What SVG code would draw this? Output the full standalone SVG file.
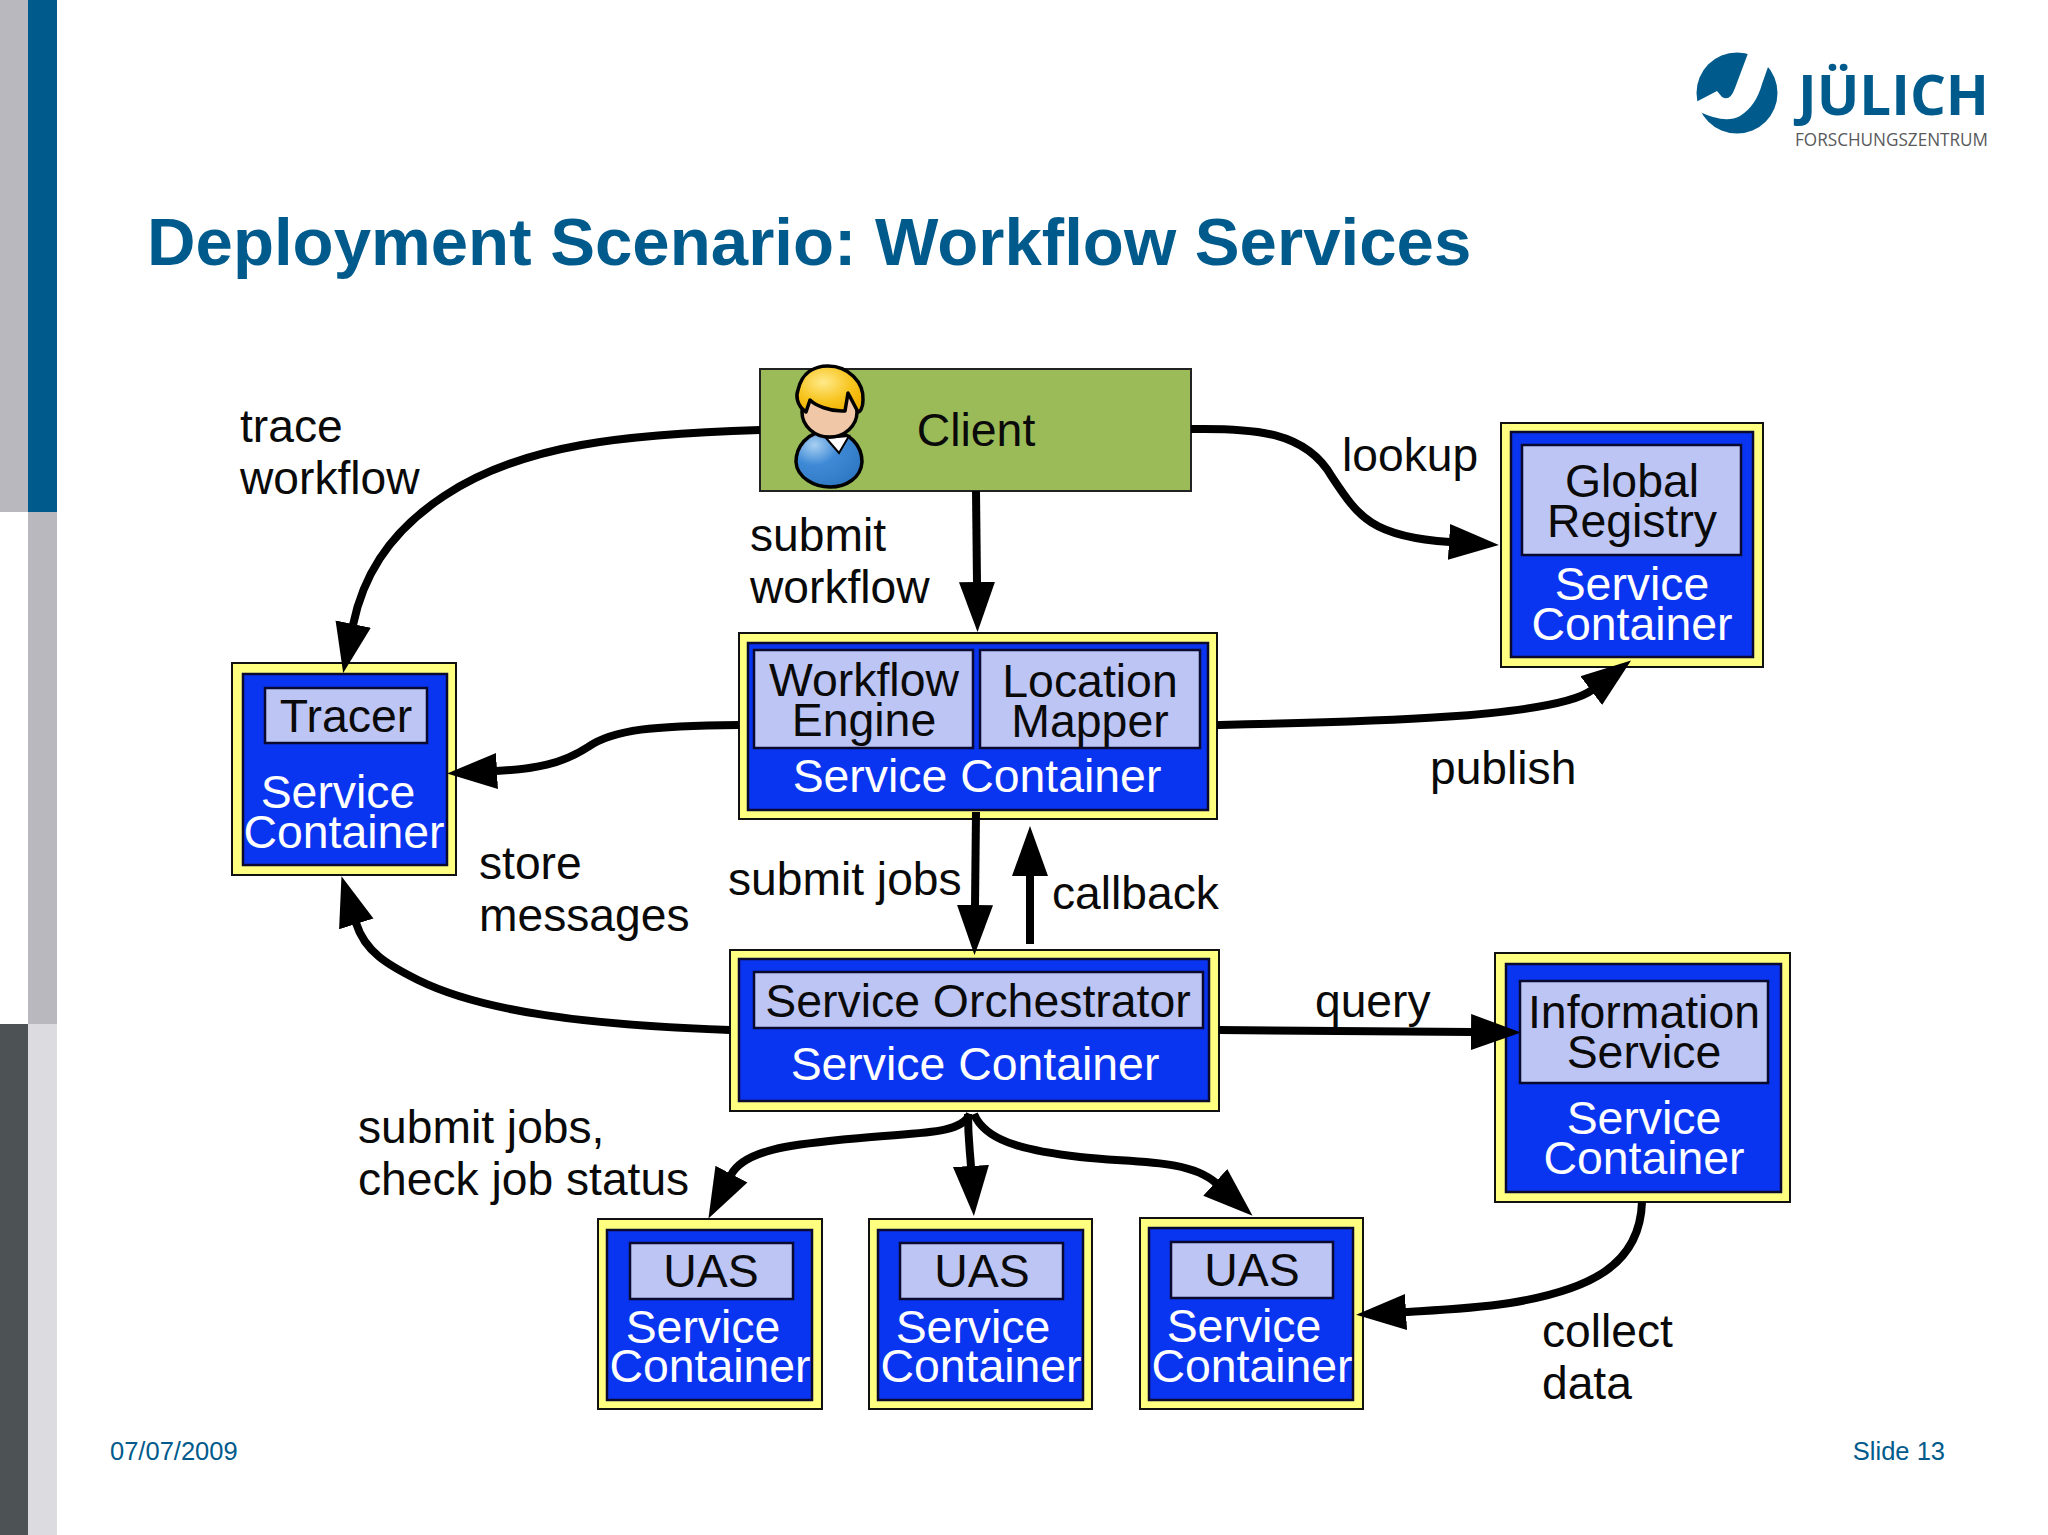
<svg xmlns="http://www.w3.org/2000/svg" width="2048" height="1535" viewBox="0 0 2048 1535">
<style>
text{font-family:"Liberation Sans",Arial,sans-serif}
.o{fill:#ffff80;stroke:#111;stroke-width:2}
.i{fill:#0a35f0;stroke:#0a0a30;stroke-width:2.5}
.b{fill:#bdc5f5;stroke:#0a0a30;stroke-width:2.5}
.t{font-size:46.4px;fill:#0a0a0a;text-anchor:middle}
.w{font-size:46.4px;fill:#fff;text-anchor:middle}
.l{font-size:46.2px;fill:#0a0a0a}
.c{fill:none;stroke:#000;stroke-width:8;marker-end:url(#h)}
.f{font-size:25.5px;fill:#005b8c}
</style>
<defs>
<marker id="h" markerUnits="userSpaceOnUse" markerWidth="54" markerHeight="40" refX="1" refY="20" orient="auto"><path d="M0 2L50 20L0 38Z" fill="#000"/></marker>
<radialGradient id="hair" cx="40%" cy="35%" r="70%"><stop offset="0" stop-color="#ffe98a"/><stop offset=".6" stop-color="#f7c520"/><stop offset="1" stop-color="#f0b000"/></radialGradient>
<radialGradient id="body" cx="28%" cy="25%" r="80%"><stop offset="0" stop-color="#a8d0f2"/><stop offset=".45" stop-color="#3f8ad6"/><stop offset="1" stop-color="#2f78c4"/></radialGradient>
</defs>
<rect width="2048" height="1535" fill="#fff"/>
<g id="stripes">
<rect x="0" y="0" width="28" height="512" fill="#b8b8be"/>
<rect x="28" y="0" width="29" height="512" fill="#005b8c"/>
<rect x="28" y="512" width="29" height="512" fill="#b8b8be"/>
<rect x="0" y="1024" width="28" height="511" fill="#4d5355"/>
<rect x="28" y="1024" width="29" height="511" fill="#dcdce0"/>
</g>
<g id="logo">
<circle cx="1737" cy="93" r="40.5" fill="#005b8c"/>
<path d="M1750 48L1735 88Q1730 102 1722 97L1717 91L1694 103L1700 112Q1725 124 1740 116Q1756 106 1762 84L1768 67L1790 40Z" fill="#fff"/>
<text x="1798" y="115" font-size="56" font-weight="700" fill="#005b8c" textLength="191" lengthAdjust="spacingAndGlyphs" style="font-family:'Open Sans',sans-serif">JÜLICH</text>
<text x="1795" y="146" font-size="18" fill="#58595b" textLength="193" lengthAdjust="spacingAndGlyphs" style="font-family:'Open Sans',sans-serif">FORSCHUNGSZENTRUM</text>
</g>
<text id="title" x="147" y="264.5" font-size="67.2" font-weight="700" fill="#005b8c">Deployment Scenario: Workflow Services</text>
<g id="client">
<rect x="760" y="369" width="431" height="122" fill="#9bbb59" stroke="#222" stroke-width="2"/>
<path d="M829 431C806 431 796 448 796 462C797 478 815 487 830 487C846 487 861 478 862 462C862 446 850 431 829 431Z" fill="url(#body)" stroke="#000" stroke-width="3.5"/>
<path d="M826 438L839 453L849 436Z" fill="#fff" stroke="#000" stroke-width="2"/>
<ellipse cx="829.5" cy="412" rx="27.5" ry="25" fill="#f0c8a8" stroke="#000" stroke-width="3.5"/>
<path d="M806 412C796 405 796 395 798 390C802 372 815 366 828 366C848 366 864 382 863 400C863 408 860 412 858 412L848 393L845 411C830 412 815 405 810 400Z" fill="url(#hair)" stroke="#000" stroke-width="3.5" stroke-linejoin="round"/>
<text class="t" x="976" y="446">Client</text>
</g>
<g id="global-registry">
<rect class="o" x="1501" y="423" width="262" height="244"/>
<rect class="i" x="1511" y="432" width="242" height="225"/>
<rect class="b" x="1522" y="445" width="219" height="110"/>
<text class="t" x="1632" y="497">Global</text>
<text class="t" x="1632" y="537">Registry</text>
<text class="w" x="1632" y="600">Service</text>
<text class="w" x="1632" y="640">Container</text>
</g>
<g id="tracer">
<rect class="o" x="232" y="663" width="224" height="212"/>
<rect class="i" x="243" y="674" width="204" height="191"/>
<rect class="b" x="265" y="688" width="162" height="55"/>
<text class="t" x="346" y="732">Tracer</text>
<text class="w" x="338" y="808">Service</text>
<text class="w" x="344" y="848">Container</text>
</g>
<g id="workflow">
<rect class="o" x="739" y="633" width="478" height="186"/>
<rect class="i" x="748" y="643" width="460" height="167"/>
<rect class="b" x="754" y="650" width="219" height="98"/>
<rect class="b" x="980" y="650" width="220" height="98"/>
<text class="t" x="864" y="696">Workflow</text>
<text class="t" x="864" y="736">Engine</text>
<text class="t" x="1090" y="697">Location</text>
<text class="t" x="1090" y="737">Mapper</text>
<text class="w" x="977" y="792">Service Container</text>
</g>
<g id="orchestrator">
<rect class="o" x="730" y="950" width="489" height="161"/>
<rect class="i" x="739" y="959" width="470" height="142"/>
<rect class="b" x="754" y="972" width="449" height="56"/>
<text class="t" x="978" y="1017">Service Orchestrator</text>
<text class="w" x="975" y="1080">Service Container</text>
</g>
<g id="information">
<rect class="o" x="1495" y="953" width="295" height="249"/>
<rect class="i" x="1506" y="964" width="275" height="228"/>
<rect class="b" x="1520" y="981" width="248" height="102"/>
<text class="t" x="1644" y="1028">Information</text>
<text class="t" x="1644" y="1068">Service</text>
<text class="w" x="1644" y="1134">Service</text>
<text class="w" x="1644" y="1174">Container</text>
</g>
<g id="uas1">
<rect class="o" x="598" y="1219" width="224" height="190"/>
<rect class="i" x="607" y="1230" width="205" height="170"/>
<rect class="b" x="630" y="1243" width="163" height="56"/>
<text class="t" x="711" y="1287">UAS</text>
<text class="w" x="703" y="1343">Service</text>
<text class="w" x="710" y="1382">Container</text>
</g>
<g id="uas2">
<rect class="o" x="869" y="1219" width="223" height="190"/>
<rect class="i" x="878" y="1230" width="205" height="170"/>
<rect class="b" x="900" y="1243" width="163" height="56"/>
<text class="t" x="982" y="1287">UAS</text>
<text class="w" x="973" y="1343">Service</text>
<text class="w" x="981" y="1382">Container</text>
</g>
<g id="uas3">
<rect class="o" x="1140" y="1218" width="223" height="191"/>
<rect class="i" x="1149" y="1228" width="204" height="172"/>
<rect class="b" x="1171" y="1242" width="162" height="56"/>
<text class="t" x="1252" y="1286">UAS</text>
<text class="w" x="1244" y="1342">Service</text>
<text class="w" x="1252" y="1382">Container</text>
</g>
<g id="connectors">
<path class="c" d="M760 430C627 434 522 444 444 496C385 535 362 581 353 625"/>
<path class="c" d="M1191 429C1254 428 1306 431 1332 477C1358 516 1371 537 1450 542"/>
<path class="c" d="M976 491L977 583"/>
<path class="c" d="M739 725C653 726 614 729 588 747C562 764 535 769 496 771"/>
<path class="c" d="M1217 725C1358 722 1555 718 1592 690"/>
<path class="c" d="M730 1030C588 1025 483 1012 418 980C388 965 365 952 356 923"/>
<path class="c" d="M976 812L975 906"/>
<path class="c" d="M1030 944L1030 875"/>
<path class="c" d="M1219 1030L1472 1032"/>
<path class="c" d="M970 1114C960 1136 914 1132 849 1139C800 1144 745 1148 731 1175"/>
<path class="c" d="M968 1114C968 1140 970 1150 971 1167"/>
<path class="c" d="M974 1114C985 1140 1020 1150 1080 1157C1130 1163 1188 1158 1216 1183"/>
<path class="c" d="M1642 1202C1640 1265 1590 1290 1510 1303C1470 1309 1440 1310 1405 1312"/>
</g>
<g id="labels">
<text class="l" x="240" y="442">trace</text>
<text class="l" x="240" y="494">workflow</text>
<text class="l" x="750" y="551">submit</text>
<text class="l" x="750" y="603">workflow</text>
<text class="l" x="1342" y="471">lookup</text>
<text class="l" x="1430" y="784">publish</text>
<text class="l" x="479" y="879">store</text>
<text class="l" x="479" y="931">messages</text>
<text class="l" x="728" y="895">submit jobs</text>
<text class="l" x="1052" y="909">callback</text>
<text class="l" x="1315" y="1017">query</text>
<text class="l" x="358" y="1143">submit jobs,</text>
<text class="l" x="358" y="1195">check job status</text>
<text class="l" x="1542" y="1347">collect</text>
<text class="l" x="1542" y="1399">data</text>
</g>
<g id="footer">
<text class="f" x="110" y="1460">07/07/2009</text>
<text class="f" x="1945" y="1460" text-anchor="end">Slide 13</text>
</g>
</svg>
